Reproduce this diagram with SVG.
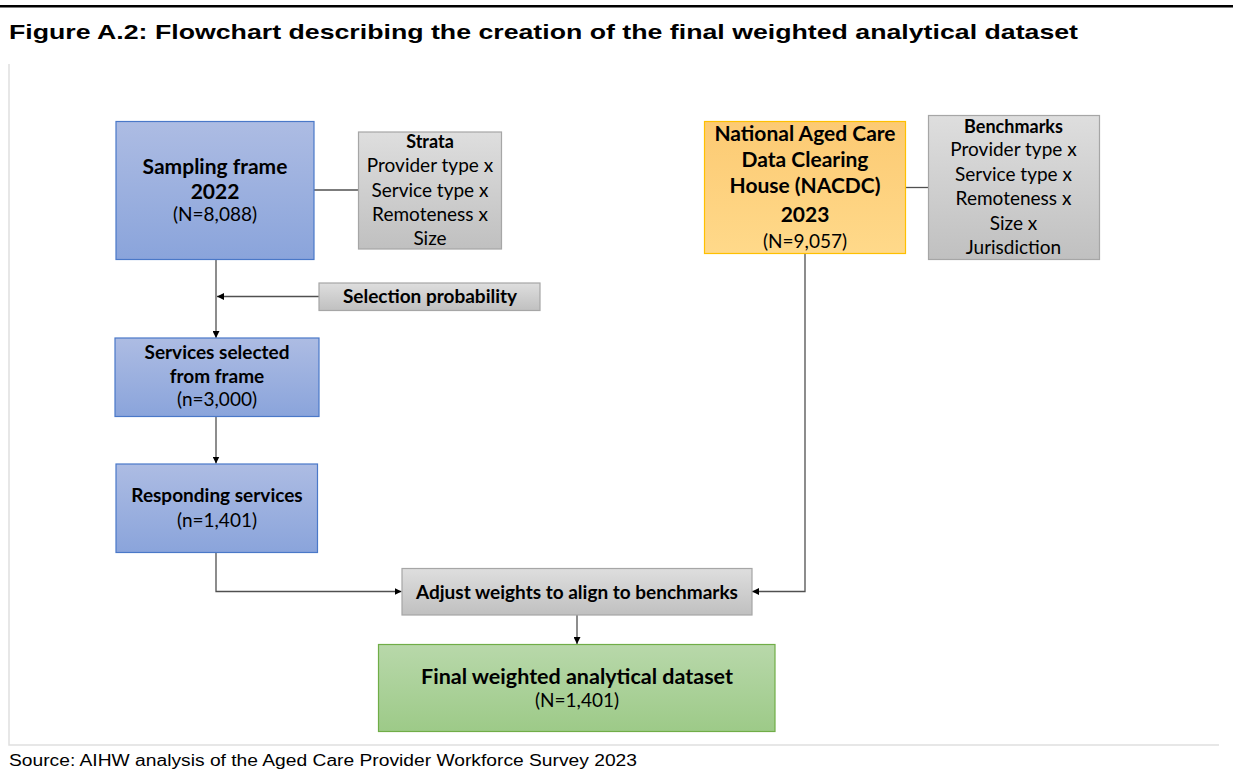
<svg xmlns="http://www.w3.org/2000/svg" width="1233" height="773" viewBox="0 0 1233 773">
<defs>
<style>
.t{font-family:Lato,"Liberation Sans",sans-serif;fill:#000;text-anchor:middle}
.b{font-weight:bold;font-size:21px}
.s{font-weight:bold;font-size:19px}
.r{font-size:19px}
.ln{fill:none;stroke:#505050;stroke-width:1.3}
.blue{stroke:#4a78c8;stroke-width:1.2}
.grey{stroke:#a6a6a6;stroke-width:1.2}
</style>
<linearGradient id="gBlue" x1="0" y1="0" x2="0" y2="1"><stop offset="0" stop-color="#adbce3"/><stop offset="1" stop-color="#8aa4db"/></linearGradient>
<linearGradient id="gGrey" x1="0" y1="0" x2="0" y2="1"><stop offset="0" stop-color="#dedede"/><stop offset="1" stop-color="#c0c0c0"/></linearGradient>
<linearGradient id="gOrange" x1="0" y1="0" x2="0" y2="1"><stop offset="0" stop-color="#fcca73"/><stop offset="1" stop-color="#ffd98a"/></linearGradient>
<linearGradient id="gGreen" x1="0" y1="0" x2="0" y2="1"><stop offset="0" stop-color="#b8d8aa"/><stop offset="1" stop-color="#9dca88"/></linearGradient>
<marker id="ah" viewBox="0 0 10 10" refX="10" refY="5" markerWidth="7" markerHeight="7" markerUnits="userSpaceOnUse" orient="auto"><path d="M0,0 L10,5 L0,10 z" fill="#000"/></marker>
</defs>
<rect width="1233" height="773" fill="#fff"/>
<line x1="0" y1="6.3" x2="1233" y2="6.3" stroke="#000" stroke-width="2.5"/>
<text x="9" y="39" font-family="'Liberation Sans',Arial,sans-serif" font-weight="bold" font-size="21" textLength="1069" lengthAdjust="spacingAndGlyphs">Figure A.2: Flowchart describing the creation of the final weighted analytical dataset</text>
<polyline points="9,64 9,745 1219,745" fill="none" stroke="#e0e0e0" stroke-width="1.5"/>
<text x="9" y="766" font-family="'Liberation Sans',Arial,sans-serif" font-size="16" textLength="628" lengthAdjust="spacingAndGlyphs">Source: AIHW analysis of the Aged Care Provider Workforce Survey 2023</text>

<g id="connectors">
<line class="ln" x1="314" y1="190" x2="358" y2="190"/>
<line class="ln" x1="905" y1="187.5" x2="928" y2="187.5"/>
<line class="ln" x1="216" y1="260" x2="216" y2="338" marker-end="url(#ah)"/>
<line class="ln" x1="319" y1="296.5" x2="217" y2="296.5" marker-end="url(#ah)"/>
<line class="ln" x1="216" y1="417" x2="216" y2="463.5" marker-end="url(#ah)"/>
<polyline class="ln" points="216,552.5 216,591.5 401.5,591.5" marker-end="url(#ah)"/>
<polyline class="ln" points="805,254 805,591.5 752,591.5" marker-end="url(#ah)"/>
<line class="ln" x1="577" y1="615" x2="577" y2="644" marker-end="url(#ah)"/>
</g>

<g id="sampling-frame">
<rect x="116" y="121.5" width="198" height="138" fill="url(#gBlue)" class="blue"/>
<text class="t b" x="215" y="173.5">Sampling frame</text>
<text class="t b" x="215" y="198.5">2022</text>
<text class="t r" x="215" y="221">(N=8,088)</text>
</g>

<g id="strata">
<rect x="358.5" y="132" width="143" height="117" fill="url(#gGrey)" class="grey"/>
<text class="t b" x="430" y="148" style="font-size:18px">Strata</text>
<text class="t r" x="430" y="172">Provider type x</text>
<text class="t r" x="430" y="196.5">Service type x</text>
<text class="t r" x="430" y="221">Remoteness x</text>
<text class="t r" x="430" y="245">Size</text>
</g>

<g id="selection-probability">
<rect x="319" y="283" width="221" height="27.5" fill="url(#gGrey)" class="grey"/>
<text class="t s" x="430" y="303">Selection probability</text>
</g>

<g id="services-selected">
<rect x="115" y="338" width="204" height="78.5" fill="url(#gBlue)" class="blue"/>
<text class="t s" x="217" y="359">Services selected</text>
<text class="t s" x="217" y="382.5">from frame</text>
<text class="t r" x="217" y="406">(n=3,000)</text>
</g>

<g id="responding-services">
<rect x="116" y="464" width="201.5" height="88.5" fill="url(#gBlue)" class="blue"/>
<text class="t s" x="217" y="502">Responding services</text>
<text class="t r" x="217" y="526.5">(n=1,401)</text>
</g>

<g id="nacdc">
<rect x="704.5" y="121.5" width="201" height="132" fill="url(#gOrange)" stroke="#ffc000" stroke-width="1.2"/>
<text class="t b" x="805" y="141">National Aged Care</text>
<text class="t b" x="805" y="167">Data Clearing</text>
<text class="t b" x="805" y="193">House (NACDC)</text>
<text class="t b" x="805" y="221.5">2023</text>
<text class="t r" x="805" y="248">(N=9,057)</text>
</g>

<g id="benchmarks">
<rect x="928.5" y="115.5" width="171" height="144" fill="url(#gGrey)" class="grey"/>
<text class="t b" x="1013.5" y="133" style="font-size:18px">Benchmarks</text>
<text class="t r" x="1013.5" y="156">Provider type x</text>
<text class="t r" x="1013.5" y="180.5">Service type x</text>
<text class="t r" x="1013.5" y="205">Remoteness x</text>
<text class="t r" x="1013.5" y="229.5">Size x</text>
<text class="t r" x="1013.5" y="253.5">Jurisdiction</text>
</g>

<g id="adjust-weights">
<rect x="402" y="568.5" width="350" height="46.5" fill="url(#gGrey)" class="grey"/>
<text class="t s" x="577" y="598.5">Adjust weights to align to benchmarks</text>
</g>

<g id="final-dataset">
<rect x="378.5" y="644.5" width="396.5" height="87" fill="url(#gGreen)" stroke="#70ad47" stroke-width="1.2"/>
<text class="t b" x="577" y="683.5" style="font-size:21.5px">Final weighted analytical dataset</text>
<text class="t r" x="577" y="707">(N=1,401)</text>
</g>
</svg>
